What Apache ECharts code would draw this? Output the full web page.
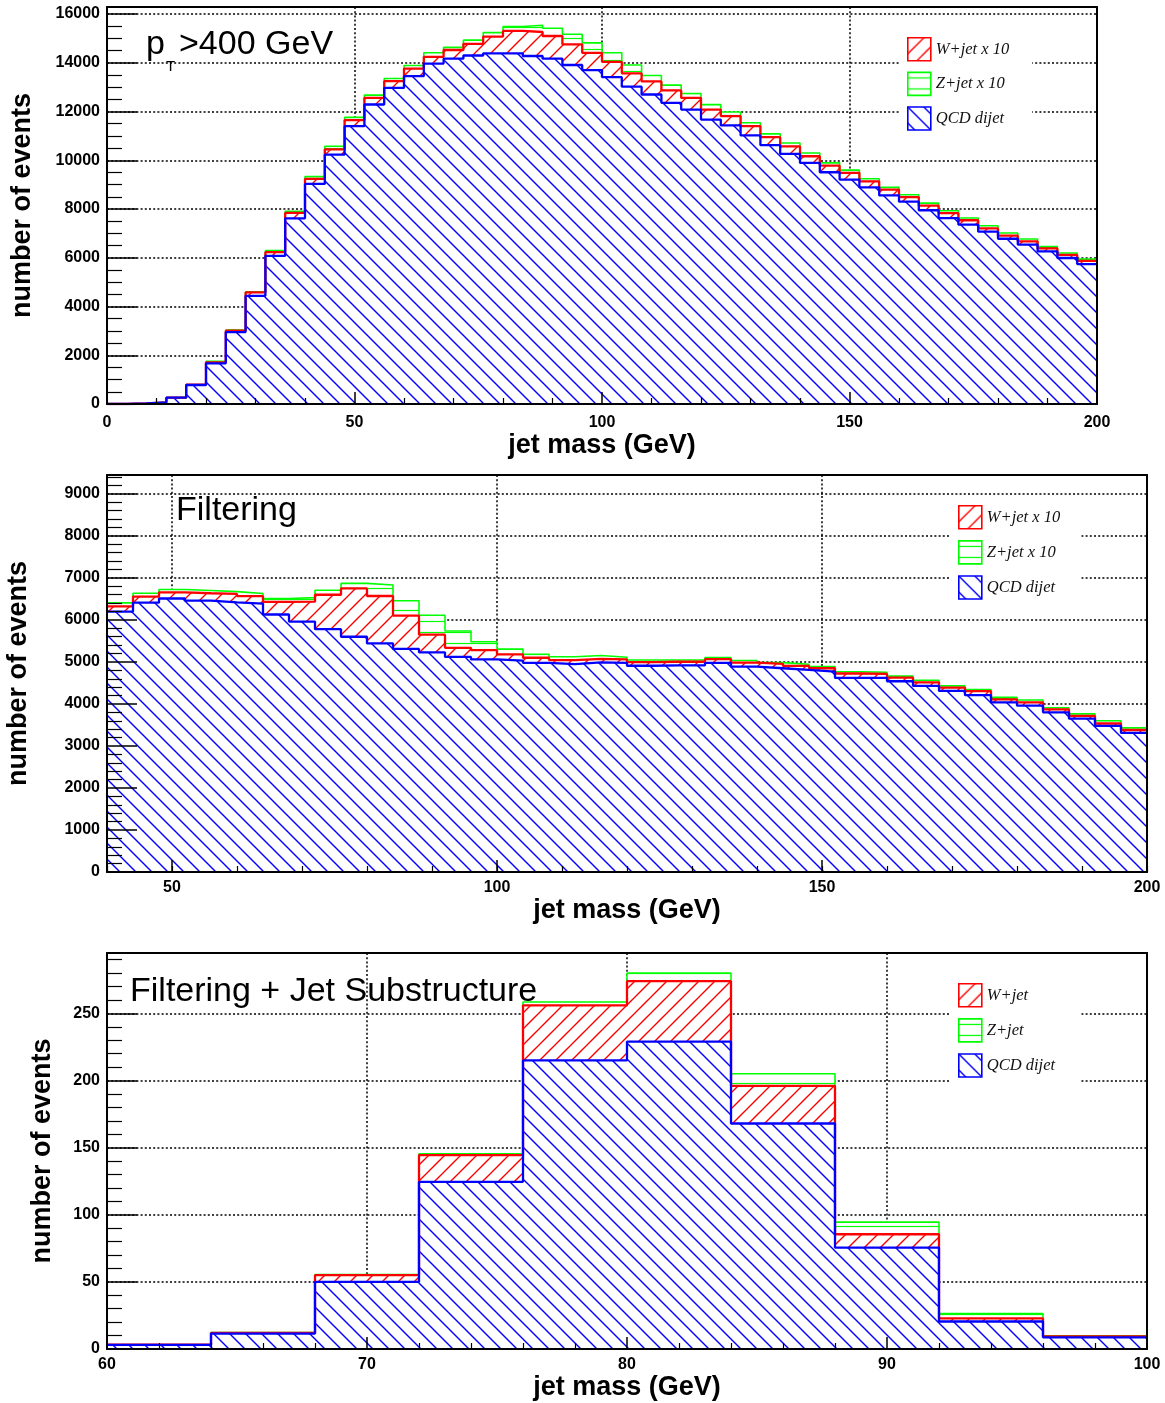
<!DOCTYPE html>
<html>
<head>
<meta charset="utf-8">
<script src="https://cdn.jsdelivr.net/npm/echarts@6/dist/echarts.min.js"></script>
<style>
  html, body { margin: 0; padding: 0; background: #fff; }
  #chart { width: 1165px; height: 1403px; }
</style>
</head>
<body>
<div id="chart"></div>
<script>
// Jet mass spectra in 4 GeV bins: W+jet and Z+jet stacked on top of QCD dijet.

// Panel 1: pT > 400 GeV, bins start at 0 GeV
const ptBinLow = 0;
const ptBinWidth = 4;
const ptQCD = [0, 20, 70, 260, 780, 1670, 2950, 4440, 6080, 7620,
  9030, 10230, 11400, 12290, 12970, 13450, 13970, 14170, 14300, 14390,
  14390, 14280, 14170, 13910, 13700, 13410, 13020, 12700, 12360, 12080,
  11670, 11430, 11020, 10620, 10260, 9890, 9510, 9210, 8890, 8560,
  8300, 7950, 7630, 7360, 7070, 6780, 6540, 6260, 5990, 5740];
const ptWjet = [0, 0, 0, 0, 10, 40, 55, 140, 150, 220,
  205, 220, 250, 275, 275, 315, 275, 355, 480, 685,
  920, 985, 930, 850, 710, 630, 550, 535, 505, 480,
  410, 385, 385, 330, 315, 275, 275, 275, 245, 235,
  190, 190, 205, 180, 135, 125, 135, 125, 125, 135];
const ptZjet = [0, 0, 0, 0, 0, 40, 25, 25, 70, 70,
  95, 125, 110, 110, 110, 125, 165, 110, 150, 165,
  180, 275, 315, 410, 410, 370, 340, 245, 220, 180,
  205, 165, 135, 135, 135, 135, 110, 110, 110, 95,
  95, 110, 95, 95, 110, 110, 95, 80, 80, 70];
const ptXTicks = [0, 50, 100, 150, 200];

// Panel 2: after filtering, bins start at 40 GeV
const filtBinLow = 40;
const filtBinWidth = 4;
const filtQCD = [6200, 6410, 6510, 6460, 6420, 6390, 6130, 5960, 5780, 5600,
  5440, 5310, 5230, 5120, 5060, 5030, 4980, 4950, 4990, 4980,
  4910, 4920, 4920, 4980, 4890, 4850, 4810, 4770, 4620, 4620,
  4540, 4430, 4310, 4210, 4040, 3960, 3800, 3650, 3480, 3310];
const filtWjet = [125, 145, 145, 175, 200, 175, 300, 475, 820, 1150,
  1130, 795, 420, 215, 220, 150, 120, 95, 85, 80,
  85, 85, 85, 85, 95, 105, 95, 80, 105, 95,
  85, 85, 80, 95, 70, 80, 70, 65, 55, 70];
const filtZjet = [80, 80, 70, 65, 55, 65, 80, 95, 105, 120,
  260, 350, 460, 400, 200, 125, 85, 80, 80, 50,
  50, 40, 40, 40, 50, 30, 40, 40, 40, 40,
  40, 50, 40, 40, 50, 55, 40, 50, 65, 50];
const filtXTicks = [50, 100, 150, 200];

// Panel 3: filtering + jet substructure, bins start at 60 GeV
const subBinLow = 60;
const subBinWidth = 4;
const subQCD = [3, 11.5, 50, 124.5, 215, 229, 168, 75.5, 20.5, 8.7];
const subWjet = [0.2, 0.5, 5, 20, 41, 45, 28, 10, 2.3, 0.7];
const subZjet = [0, 0.3, 0.5, 1, 2.5, 6, 9, 9, 3.7, 0.5];
const subXTicks = [60, 70, 80, 90, 100];

const ptNames = ['W+jet x 10', 'Z+jet x 10', 'QCD dijet'];
const filtNames = ['W+jet x 10', 'Z+jet x 10', 'QCD dijet'];
const subNames = ['W+jet', 'Z+jet', 'QCD dijet'];

// ---------------------------------------------------------------------------
const SANS = 'Liberation Sans';
const SERIF = 'Liberation Serif';
const RED = '#ff0000', GREEN = '#00ff00', BLUE = '#0000ff';

// Opaque hatch tiles (white ground + coloured strokes)
function makeHatch(kind, color) {
  const c = document.createElement('canvas');
  const s = 16;
  c.width = kind === '-' ? 8 : s;
  c.height = kind === '-' ? 11 : s;
  const g = c.getContext('2d');
  g.fillStyle = '#fff';
  g.fillRect(0, 0, c.width, c.height);
  g.strokeStyle = color;
  g.lineWidth = 1.4;
  g.beginPath();
  if (kind === '/') {
    g.moveTo(-1, s + 1); g.lineTo(s + 1, -1);
    g.moveTo(-1, 1); g.lineTo(1, -1);
    g.moveTo(s - 1, s + 1); g.lineTo(s + 1, s - 1);
  } else if (kind === '\\') {
    g.moveTo(-1, -1); g.lineTo(s + 1, s + 1);
    g.moveTo(-1, s - 1); g.lineTo(1, s + 1);
    g.moveTo(s - 1, -1); g.lineTo(s + 1, 1);
  } else {
    g.lineWidth = 1.2;
    g.moveTo(0, 5.5); g.lineTo(c.width, 5.5);
  }
  g.stroke();
  return { image: c, repeat: 'repeat' };
}
const hatchW = makeHatch('/', RED);
const hatchZ = makeHatch('-', GREEN);
const hatchQCD = makeHatch('\\', BLUE);

// Step-histogram points: left edge of every bin plus the closing right edge
function histPoints(lo, width, vals) {
  const pts = vals.map((v, i) => [lo + i * width, v]);
  pts.push([lo + vals.length * width, vals[vals.length - 1]]);
  return pts;
}
function addArrays(a, b) { return a.map((v, i) => v + b[i]); }

const panels = [
  {
    lo: ptBinLow, width: ptBinWidth, qcd: ptQCD, w: ptWjet, z: ptZjet, names: ptNames,
    grid: { left: 107, top: 7, width: 990, height: 397 },
    x: { min: 0, max: 200, interval: 50, minorSplit: 5, nameGap: 26, labelMargin: 11 },
    y: { min: 0, max: 16290, interval: 2000, minorSplit: 4, nameGap: 71 },
    legend: { left: 900, top: 28, padding: [9, 23, 9, 7], itemGap: 10 }
  },
  {
    lo: filtBinLow, width: filtBinWidth, qcd: filtQCD, w: filtWjet, z: filtZjet, names: filtNames,
    grid: { left: 107, top: 475, width: 1040, height: 397 },
    x: { min: 40, max: 200, interval: 10, ticks: filtXTicks, minorEvery: true, nameGap: 23, labelMargin: 8 },
    y: { min: 0, max: 9450, interval: 1000, minorSplit: 5, nameGap: 75 },
    legend: { left: 951, top: 496, padding: [9, 21, 9, 7], itemGap: 10.5 }
  },
  {
    lo: subBinLow, width: subBinWidth, qcd: subQCD, w: subWjet, z: subZjet, names: subNames,
    grid: { left: 107, top: 953, width: 1040, height: 396 },
    x: { min: 60, max: 100, interval: 10, minorSplit: 5, nameGap: 23, labelMargin: 8 },
    y: { min: 0, max: 295, interval: 50, minorSplit: 5, nameGap: 51 },
    legend: { left: 951, top: 974, padding: [9, 26, 9, 7], itemGap: 10.5 }
  }
];

const grids = [], xAxes = [], yAxes = [], series = [], legends = [];
const gridLine = { color: '#000', width: 1.5, type: [2, 2.2] };
const titleStyle = { fontFamily: SANS, fontWeight: 'bold', fontSize: 27, color: '#000' };
const labelStyle = { fontFamily: SANS, fontWeight: 'bold', fontSize: 16, color: '#000' };
const plainNumber = v => String(v);

panels.forEach((p, gi) => {
  grids.push(Object.assign({ show: false, outerBoundsMode: 'none', containLabel: false }, p.grid));

  // ---- x axes
  const xBase = { type: 'value', gridIndex: gi, min: p.x.min, max: p.x.max, interval: p.x.interval };
  const xMainIndex = xAxes.length;
  const xTick = { show: true, inside: true, length: 12, lineStyle: { color: '#000', width: 1.5 } };
  const xLabel = Object.assign({ margin: p.x.labelMargin, formatter: plainNumber }, labelStyle);
  if (p.x.ticks) { xTick.customValues = p.x.ticks; xLabel.customValues = p.x.ticks; }
  xAxes.push(Object.assign({}, xBase, {
    position: 'bottom', z: 5,
    axisLine: { show: true, onZero: false, lineStyle: { color: '#000', width: 2 } },
    axisTick: xTick,
    minorTick: { show: !!p.x.minorSplit, splitNumber: p.x.minorSplit || 5, length: 6, lineStyle: { color: '#000', width: 1.2 } },
    axisLabel: xLabel,
    splitLine: { show: false },
    name: 'jet mass (GeV)', nameLocation: 'middle', nameGap: p.x.nameGap, nameTextStyle: titleStyle
  }));
  xAxes.push(Object.assign({}, xBase, {
    position: 'bottom', z: 0,
    axisLine: { show: false, onZero: false },
    axisTick: p.x.ticks ? { show: false, customValues: p.x.ticks } : { show: false },
    axisLabel: { show: false },
    splitLine: { show: true, lineStyle: gridLine }
  }));
  xAxes.push(Object.assign({}, xBase, {
    position: 'top', z: 5,
    axisLine: { show: true, onZero: false, lineStyle: { color: '#000', width: 2 } },
    axisTick: { show: false }, axisLabel: { show: false }, splitLine: { show: false }
  }));
  if (p.x.minorEvery) {
    xAxes.push(Object.assign({}, xBase, {
      position: 'bottom', z: 5,
      axisLine: { show: false, onZero: false },
      axisTick: { show: true, inside: true, length: 6, lineStyle: { color: '#000', width: 1.2 } },
      axisLabel: { show: false }, splitLine: { show: false }
    }));
  }

  // ---- y axes
  const yBase = { type: 'value', gridIndex: gi, min: p.y.min, max: p.y.max, interval: p.y.interval };
  const yMainIndex = yAxes.length;
  yAxes.push(Object.assign({}, yBase, {
    position: 'left', z: 5,
    axisLine: { show: true, onZero: false, lineStyle: { color: '#000', width: 2 } },
    axisTick: { show: true, inside: true, length: 30, lineStyle: { color: '#000', width: 1.5 } },
    minorTick: { show: true, splitNumber: p.y.minorSplit, length: 15, lineStyle: { color: '#000', width: 1.2 } },
    axisLabel: Object.assign({ margin: 7, showMaxLabel: false, formatter: plainNumber }, labelStyle),
    splitLine: { show: false },
    name: 'number of events', nameLocation: 'middle', nameRotate: 90, nameGap: p.y.nameGap, nameTextStyle: titleStyle
  }));
  yAxes.push(Object.assign({}, yBase, {
    position: 'left', z: 0,
    axisLine: { show: false, onZero: false }, axisTick: { show: false }, axisLabel: { show: false },
    splitLine: { show: true, lineStyle: gridLine }
  }));
  yAxes.push(Object.assign({}, yBase, {
    position: 'right', z: 5,
    axisLine: { show: true, onZero: false, lineStyle: { color: '#000', width: 2 } },
    axisTick: { show: false }, axisLabel: { show: false }, splitLine: { show: false }
  }));

  // ---- stacked histograms (drawn from the full stack down, each opaque)
  const totW = addArrays(p.qcd, p.w);
  const totZ = addArrays(totW, p.z);
  const layers = [
    { name: p.names[1], vals: totZ, color: GREEN, width: 1.6, fill: hatchZ },
    { name: p.names[0], vals: totW, color: RED, width: 2.3, fill: hatchW },
    { name: p.names[2], vals: p.qcd, color: BLUE, width: 2.3, fill: hatchQCD }
  ];
  layers.forEach(l => {
    series.push({
      type: 'line', name: l.name, xAxisIndex: xMainIndex, yAxisIndex: yMainIndex,
      data: histPoints(p.lo, p.width, l.vals),
      step: 'end', symbol: 'none', showSymbol: false, silent: true, z: 2,
      lineStyle: { color: l.color, width: l.width },
      itemStyle: { color: l.color },
      areaStyle: { color: l.fill, opacity: 1, origin: 'start' },
      emphasis: { disabled: true }
    });
  });

  legends.push(Object.assign({
    orient: 'vertical', icon: 'rect', itemWidth: 23, itemHeight: 23,
    backgroundColor: '#fff', selectedMode: false,
    textStyle: { fontFamily: SERIF, fontStyle: 'italic', fontSize: 16.5, color: '#111' },
    data: [
      { name: p.names[0], itemStyle: { color: hatchW, borderColor: RED, borderWidth: 1.6 } },
      { name: p.names[1], itemStyle: { color: hatchZ, borderColor: GREEN, borderWidth: 1.6 } },
      { name: p.names[2], itemStyle: { color: hatchQCD, borderColor: BLUE, borderWidth: 1.6 } }
    ]
  }, p.legend));
});

const mainFont = '34px "' + SANS + '"';
const chart = echarts.init(document.getElementById('chart'), null, { renderer: 'canvas' });
chart.setOption({
  animation: false,
  backgroundColor: '#fff',
  grid: grids,
  xAxis: xAxes,
  yAxis: yAxes,
  legend: legends,
  series: series,
  graphic: [
    { type: 'text', left: 146, top: 28, z: 10, style: { text: 'p', font: mainFont, fill: '#000' } },
    { type: 'text', left: 166, top: 59, z: 10, style: { text: 'T', font: '15px "' + SANS + '"', fill: '#000' } },
    { type: 'text', left: 179, top: 28, z: 10, style: { text: '>400 GeV', font: mainFont, fill: '#000' } },
    { type: 'text', left: 176, top: 494, z: 10, style: { text: 'Filtering', font: mainFont, fill: '#000' } },
    { type: 'text', left: 130, top: 975, z: 10, style: { text: 'Filtering + Jet Substructure', font: mainFont, fill: '#000' } }
  ]
});
</script>
</body>
</html>
